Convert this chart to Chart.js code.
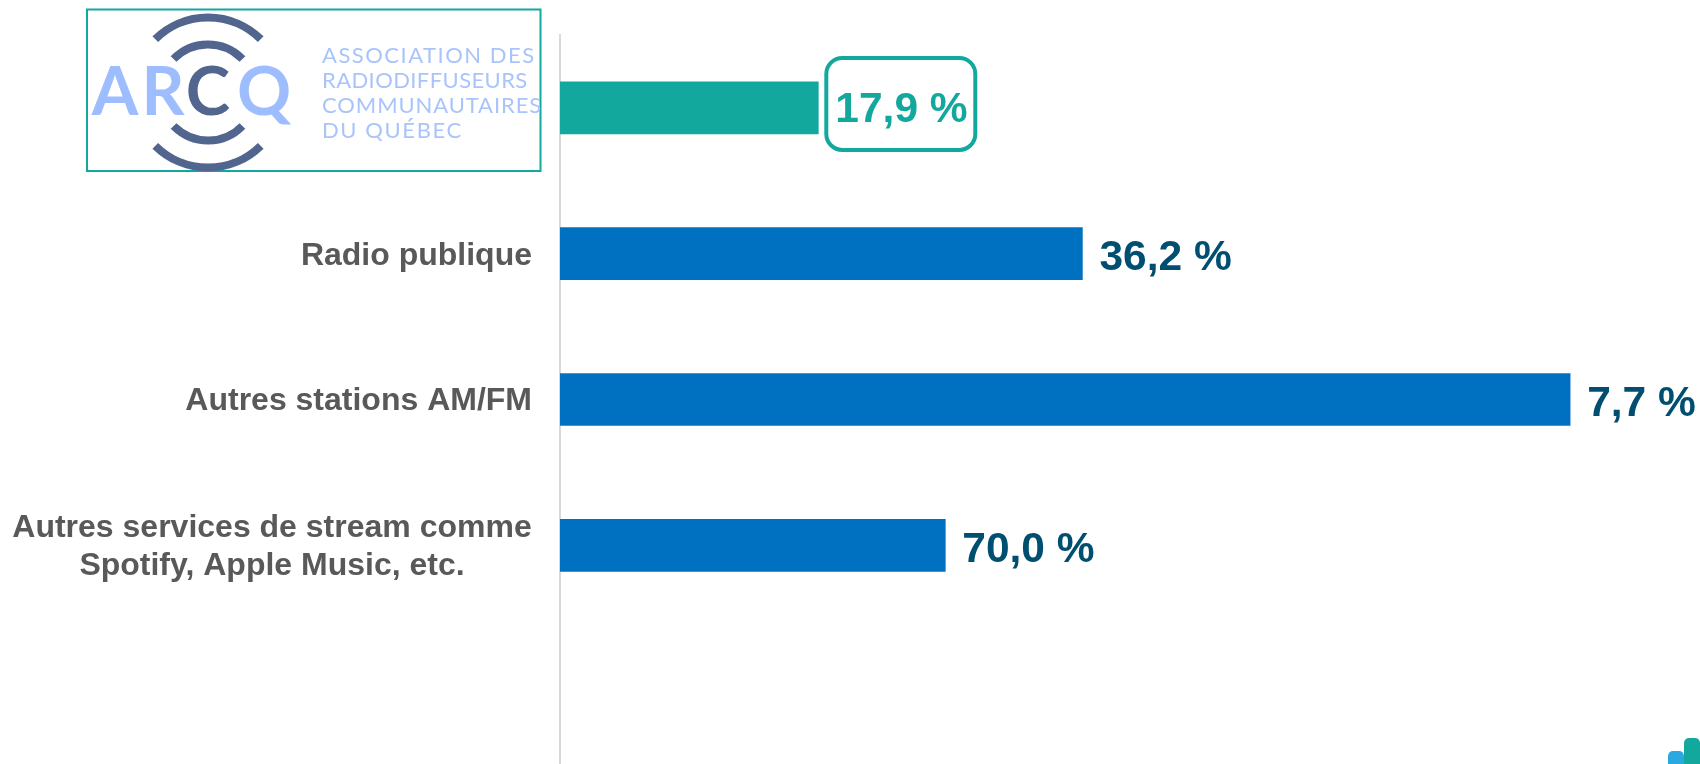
<!DOCTYPE html>
<html><head><meta charset="utf-8">
<script src="https://cdn.jsdelivr.net/npm/chart.js@4/dist/chart.umd.min.js"></script>
<style>html,body{margin:0;padding:0;background:#fff;overflow:hidden}#w{width:1700px;height:764px;position:relative}</style>
</head><body><div id="w"><canvas id="c"></canvas></div>
<script>
const categories = ["ARCQ", "Radio publique", "Autres stations AM/FM", ["Autres services de stream comme", "Spotify, Apple Music, etc."], ""];
const barValues = [17.9, 36.2, 70.0, 26.7, null];
const valueLabels = ["17,9 %", "36,2 %", "7,7 %", "70,0 %", ""];
const barColors = ["#13A89E", "#0070C0", "#0070C0", "#0070C0", "#0070C0"];
const logoLines = ["ASSOCIATION DES", "RADIODIFFUSEURS", "COMMUNAUTAIRES", "DU QUÉBEC"];
const logoLetters = ["A", "R", "C", "Q"];

const FONT = '"Liberation Sans", Arial, sans-serif';
const TEAL = "#13A89E", NAVY = "#004F71", GREY = "#595959";

function drawLogo(ctx) {
  ctx.save();
  ctx.strokeStyle = TEAL; ctx.lineWidth = 2;
  ctx.strokeRect(87, 9.5, 453.5, 161.5);
  const cx = 208, cy = 92.5;
  ctx.strokeStyle = "#51658F"; ctx.lineWidth = 8; ctx.lineCap = "butt";
  [[75, 0.78], [48, 0.8]].forEach(([r, a]) => {
    ctx.beginPath(); ctx.arc(cx, cy, r, -Math.PI / 2 - a, -Math.PI / 2 + a); ctx.stroke();
    ctx.beginPath(); ctx.arc(cx, cy, r, Math.PI / 2 - a, Math.PI / 2 + a); ctx.stroke();
  });
  ctx.textBaseline = "alphabetic"; ctx.textAlign = "center";
  ctx.font = '700 67px Lato, ' + FONT;
  const xs = [115, 163, 208, 264];
  logoLetters.forEach((l, i) => {
    ctx.fillStyle = l === "C" ? "#51658F" : "#9DBDFF";
    ctx.fillText(l, xs[i], 115);
  });
  ctx.textAlign = "left"; ctx.fillStyle = "#A9C4FB";
  ctx.font = '400 22px Lato, ' + FONT;
  const spacing = ["1.5px", "0.4px", "0.9px", "1.6px"];
  [63, 88, 113, 138].forEach((y, i) => {
    ctx.letterSpacing = spacing[i];
    ctx.fillText(logoLines[i], 322, y);
  });
  ctx.letterSpacing = "0px";
  ctx.restore();
}

const decorations = {
  id: "decorations",
  afterDatasetsDraw(chart) {
    const ctx = chart.ctx, y = chart.scales.y, meta = chart.getDatasetMeta(0);
    drawLogo(ctx);
    ctx.save();
    // category labels
    ctx.fillStyle = GREY; ctx.font = "bold 32px " + FONT; ctx.textBaseline = "middle";
    categories.forEach((c, i) => {
      if (i === 0 || !c) return;
      const yp = y.getPixelForValue(i) + 2;
      if (Array.isArray(c)) {
        ctx.textAlign = "center";
        c.forEach((line, k) => ctx.fillText(line, 272, yp + (k - (c.length - 1) / 2) * 38));
      } else {
        ctx.textAlign = "right";
        ctx.fillText(c, 532, yp);
      }
    });
    // value labels
    ctx.font = "bold 42.5px " + FONT; ctx.textAlign = "left";
    meta.data.forEach((bar, i) => {
      if (!valueLabels[i]) return;
      ctx.fillStyle = i === 0 ? TEAL : NAVY;
      ctx.fillText(valueLabels[i], bar.x + 17, bar.y + (i === 0 ? 2 : 5));
      if (i === 0) {
        ctx.strokeStyle = TEAL; ctx.lineWidth = 4;
        ctx.beginPath(); ctx.roundRect(bar.x + 8, bar.y - 50, 149, 92, 16); ctx.stroke();
      }
    });
    // corner mark
    ctx.fillStyle = "#29A9E0";
    ctx.beginPath(); ctx.roundRect(1668, 751, 16, 30, 5); ctx.fill();
    ctx.fillStyle = TEAL;
    ctx.beginPath(); ctx.roundRect(1684, 738, 16, 40, 5); ctx.fill();
    ctx.restore();
  }
};

new Chart(document.getElementById("c"), {
  type: "bar",
  data: { labels: categories, datasets: [{ data: barValues, backgroundColor: barColors, borderWidth: 0, barThickness: 52 }] },
  plugins: [decorations],
  options: {
    indexAxis: "y", responsive: true, maintainAspectRatio: false, animation: false,
    layout: { padding: { top: 35, bottom: 0, left: 0, right: 0 } },
    plugins: { legend: { display: false }, tooltip: { enabled: false } },
    scales: {
      x: { display: false, min: 0, max: 79, grid: { display: false } },
      y: {
        grid: { display: false, drawTicks: false },
        border: { display: true, color: "#D9D9D9", width: 2 },
        ticks: { display: false },
        afterFit(s) { s.width = 560; }
      }
    }
  }
});
</script></body></html>
